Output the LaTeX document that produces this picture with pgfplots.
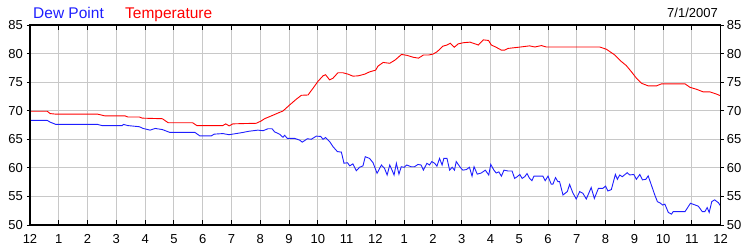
\documentclass[border=0pt]{standalone}
\usepackage{pgfplots}
\pgfplotsset{compat=1.18}
\usepackage{fontspec}
\setmainfont{Liberation Sans}
\definecolor{gridgray}{RGB}{200,200,200}
\definecolor{dewblue}{RGB}{30,30,255}
\definecolor{tempred}{RGB}{255,0,0}
\begin{document}
\begin{tikzpicture}
\useasboundingbox (0,0) rectangle (750pt,250pt);
\begin{axis}[at={(30pt,25pt)}, anchor=south west, scale only axis,
  width=690.7pt, height=200pt,
  xmin=0, xmax=24, ymin=50, ymax=85,
  xtick={0,...,24},
  xticklabels={12,1,2,3,4,5,6,7,8,9,10,11,12,1,2,3,4,5,6,7,8,9,10,11,12},
  ytick={50,55,...,85},
  grid=major, major grid style={color=gridgray, line width=0.9pt},
  axis line style={line width=1.2pt, black},
  tick align=inside, xtick pos=both, xticklabel pos=bottom,
  major tick length=5pt, tick style={black, line width=1pt},
  ytick style={draw=none},
  /pgf/number format/assume math mode=true,
  every tick label/.append style={font=\fontsize{13}{13}\selectfont},
  xticklabel style={anchor=base, yshift=-18pt, inner sep=0pt},
  yticklabel style={anchor=east, xshift=-7pt, inner sep=0pt},
]
\addplot[tempred, line width=0.9pt] coordinates {
(0,69.9) (0.6,69.9) (0.7,69.5) (0.9,69.4) (2.35,69.4) (2.6,69.1) (3.3,69.1) (3.4,68.9)
(3.8,68.9) (3.9,68.7) (4.6,68.6) (4.8,67.9) (5.65,67.9) (5.8,67.4) (6.7,67.4) (6.8,67.7)
(6.92,67.35) (7.05,67.7) (7.4,67.75) (7.86,67.8) (8.03,68.2) (8.15,68.6) (8.39,69.1)
(8.62,69.6) (8.79,69.95) (9.02,71.0) (9.25,72.0) (9.43,72.7) (9.66,72.75) (9.83,73.9)
(10.0,75.1) (10.18,76.1) (10.27,76.3) (10.41,75.4) (10.53,75.7) (10.70,76.65) (10.87,76.65)
(11.05,76.4) (11.22,76.05) (11.4,76.1) (11.63,76.4) (11.80,76.8) (12.01,77.1) (12.09,77.8)
(12.27,78.45) (12.50,78.3) (12.68,78.85) (12.91,79.85) (13.09,79.7) (13.32,79.35) (13.5,79.2)
(13.67,79.75) (13.85,79.75) (14.0,79.9) (14.14,80.3) (14.35,81.3) (14.49,81.5) (14.6,81.8)
(14.74,81.1) (14.88,81.7) (15.06,81.9) (15.29,82.0) (15.58,81.5) (15.75,82.4) (15.93,82.3)
(16.03,81.5) (16.2,81.1) (16.38,80.6) (16.49,80.6) (16.61,80.9) (16.96,81.1) (17.36,81.35)
(17.54,81.15) (17.77,81.4) (17.94,81.15) (19.8,81.15) (20.03,80.75) (20.32,79.75) (20.55,78.6)
(20.72,77.9) (20.9,76.8) (21.07,75.7) (21.25,74.8) (21.48,74.35) (21.77,74.35) (21.94,74.7)
(22.76,74.7) (22.93,74.1) (23.16,73.75) (23.39,73.3) (23.62,73.3) (23.86,72.9) (24,72.6)
};
\addplot[dewblue, line width=0.9pt] coordinates {
(0,68.3) (0.6,68.3) (0.7,68.0) (0.9,67.6) (2.35,67.6) (2.5,67.4) (3.2,67.4) (3.25,67.6)
(3.4,67.4) (3.8,67.2) (3.93,66.9) (4.17,66.6) (4.35,66.9) (4.6,66.7) (4.86,66.2) (5.73,66.2)
(5.9,65.6) (6.3,65.6) (6.4,65.9) (6.7,66.0) (6.92,65.8) (7.4,66.2) (7.6,66.4) (7.92,66.6)
(8.1,66.5) (8.27,66.85) (8.41,66.85) (8.50,66.3) (8.67,65.9) (8.79,65.35) (8.85,65.7)
(8.94,65.15) (9.2,65.15) (9.37,64.85) (9.46,64.5) (9.64,65.1) (9.77,65.0) (9.95,65.55)
(10.1,65.5) (10.18,65.0) (10.27,65.3) (10.41,64.6) (10.53,63.7) (10.68,62.85) (10.82,62.75)
(10.91,60.8) (11.03,60.9) (11.11,60.35) (11.22,60.7) (11.34,59.5) (11.45,60.1) (11.57,60.35)
(11.65,61.95) (11.80,61.65) (11.92,60.9) (12.06,59.05) (12.21,60.5) (12.32,59.9) (12.41,58.75)
(12.5,60.5) (12.58,59.6) (12.65,58.75) (12.73,60.8) (12.82,58.9) (12.9,60.2) (13.0,60.1)
(13.09,60.5) (13.24,60.2) (13.36,60.2) (13.48,60.6) (13.59,60.5) (13.67,59.6) (13.79,60.8)
(13.88,60.5) (13.96,61.1) (14.06,60.8) (14.14,60.3) (14.23,61.65) (14.32,60.5) (14.38,61.65)
(14.49,61.65) (14.58,59.6) (14.67,60.1) (14.75,59.6) (14.81,61.1) (14.95,60.1) (15.04,59.6)
(15.16,59.7) (15.27,60.1) (15.36,58.55) (15.43,60.2) (15.54,58.9) (15.68,59.1) (15.82,59.6)
(15.94,58.75) (16.01,60.6) (16.12,59.6) (16.2,59.1) (16.29,59.3) (16.38,58.55) (16.47,59.6)
(16.61,59.45) (16.75,59.45) (16.84,58.15) (16.93,58.45) (17.02,58.85) (17.1,58.15) (17.19,58.45)
(17.27,59.0) (17.36,58.15) (17.44,57.75) (17.51,58.55) (17.82,58.55) (17.9,57.75) (18.0,58.55)
(18.11,57.15) (18.17,57.15) (18.26,58.3) (18.34,57.6) (18.4,57.6) (18.52,55.25) (18.67,55.85)
(18.75,57.1) (18.86,55.65) (18.98,54.55) (19.1,55.85) (19.21,55.55) (19.33,54.55) (19.5,56.55)
(19.61,54.65) (19.75,56.4) (19.9,56.4) (20.0,56.8) (20.08,55.95) (20.2,56.2) (20.34,58.85)
(20.41,58.0) (20.49,58.75) (20.58,58.45) (20.75,59.15) (20.84,58.75) (20.98,58.85) (21.07,58.0)
(21.19,58.85) (21.28,57.9) (21.4,58.0) (21.48,58.6) (21.59,57.0) (21.71,55.25) (21.8,54.1)
(21.91,53.8) (21.98,53.5) (22.06,53.65) (22.18,52.2) (22.29,51.9) (22.35,52.35) (22.76,52.35)
(22.95,53.8) (23.22,53.3) (23.36,52.35) (23.45,52.35) (23.53,53.05) (23.6,52.2) (23.69,54.1)
(23.79,54.4) (23.92,53.9) (24,53.3)
};
\end{axis}
\begin{axis}[at={(30pt,25pt)}, anchor=south west, scale only axis,
  width=690.7pt, height=200pt,
  xmin=0, xmax=24, ymin=50, ymax=85,
  xtick=\empty, ytick={50,55,...,85},
  ytick pos=both, yticklabel pos=right, tick align=outside,
  major tick length=3pt, tick style={black, line width=1pt},
  axis line style={line width=1.2pt, black},
  /pgf/number format/assume math mode=true,
  every tick label/.append style={font=\fontsize{13}{13}\selectfont},
  yticklabel style={anchor=west, xshift=3pt, inner sep=0pt},
]
\end{axis}
\node[anchor=base west, inner sep=0pt, text=dewblue, font=\fontsize{15.5}{15.5}\selectfont] at (33pt,231.7pt) {Dew Point};
\node[anchor=base west, inner sep=0pt, text=tempred, font=\fontsize{15.5}{15.5}\selectfont] at (125pt,231.7pt) {Temperature};
\node[anchor=base east, inner sep=0pt, font=\fontsize{13}{13}\selectfont] at (718pt,232.7pt) {7/1/2007};
\end{tikzpicture}
\end{document}
